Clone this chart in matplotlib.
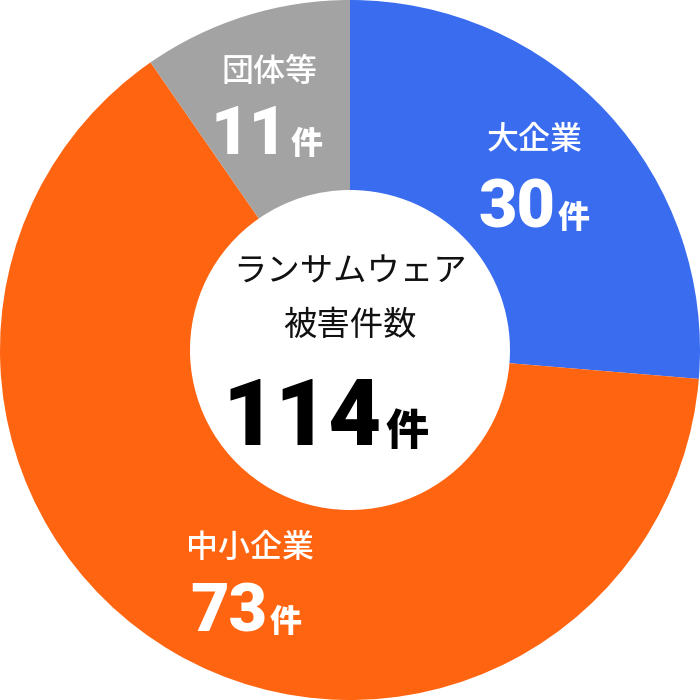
import matplotlib
matplotlib.use("Agg")
import matplotlib.pyplot as plt

labels = ["大企業", "中小企業", "団体等"]
counts = [30, 73, 11]
colors = ["#3a6cf0", "#ff6410", "#a3a3a3"]
total = sum(counts)

jp = "Noto Sans CJK JP"
num = "Roboto"

fig = plt.figure(figsize=(7, 7), dpi=100)
ax = fig.add_axes([0, 0, 1, 1])

ax.pie(counts, colors=colors, startangle=90, counterclock=False, radius=1,
       wedgeprops=dict(width=1 - 160 / 350, linewidth=0))
ax.set_xlim(-1, 1)
ax.set_ylim(-1, 1)
ax.set_aspect("equal")
ax.axis("off")


def px(x, y):
    return (x - 350) / 350, (350 - y) / 350


# label position (name centre, number baseline split point)
spots = {
    "大企業": ((535, 140), (555, 228)),
    "中小企業": ((250, 548), (267, 632)),
    "団体等": ((270, 72), (288, 154)),
}

for lab, n in zip(labels, counts):
    (lx, ly), (sx, sy) = spots[lab]
    ax.text(*px(lx, ly), lab, family=jp, fontweight="medium", fontsize=23,
            color="white", ha="center", va="center")
    ax.text(*px(sx, sy), str(n), family=num, fontweight="black", fontsize=48,
            color="white", ha="right", va="baseline")
    ax.text(*px(sx + 3, sy), "件", family=jp, fontweight="black", fontsize=23,
            color="white", ha="left", va="baseline")

ax.text(*px(350, 272), "ランサムウェア", family=jp, fontsize=24, color="#111111",
        ha="center", va="center")
ax.text(*px(350, 325), "被害件数", family=jp, fontsize=24, color="#111111",
        ha="center", va="center")
ax.text(*px(382, 445), str(total), family=num, fontweight="black", fontsize=66,
        color="black", ha="right", va="baseline")
ax.text(*px(386, 445), "件", family=jp, fontweight="black", fontsize=31,
        color="black", ha="left", va="baseline")

fig.savefig("out.png", dpi=100, facecolor="white")
